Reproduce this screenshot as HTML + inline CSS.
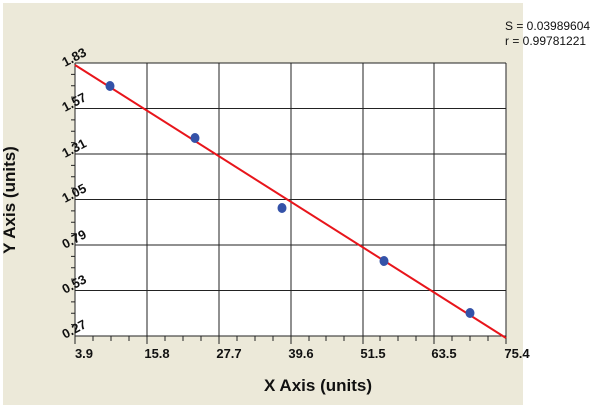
<!DOCTYPE html>
<html><head><style>body{margin:0;background:#fff}svg{display:block}</style></head><body>
<svg width="600" height="411" xmlns="http://www.w3.org/2000/svg" font-family="Liberation Sans, sans-serif">
<rect x="3" y="3" width="520" height="402" fill="#ece9d9"/>
<rect x="75" y="63" width="431" height="273" fill="#fff"/>
<g stroke="#555" stroke-width="1.3">
<line x1="147" y1="63" x2="147" y2="336"/><line x1="219" y1="63" x2="219" y2="336"/>
<line x1="291" y1="63" x2="291" y2="336"/><line x1="363" y1="63" x2="363" y2="336"/>
<line x1="434" y1="63" x2="434" y2="336"/><line x1="506" y1="63" x2="506" y2="336"/>
</g>
<g stroke="#222" stroke-width="1">
<line x1="75" y1="63" x2="506" y2="63"/><line x1="75" y1="108.5" x2="506" y2="108.5"/>
<line x1="75" y1="154" x2="506" y2="154"/><line x1="75" y1="199.5" x2="506" y2="199.5"/>
<line x1="75" y1="245" x2="506" y2="245"/><line x1="75" y1="290.5" x2="506" y2="290.5"/>
<line x1="75" y1="336" x2="506" y2="336"/><line x1="75" y1="63" x2="75" y2="344"/>
</g>
<path stroke="#222" stroke-width="1" fill="none" d="M75 336v8M93 336v5M111 336v5M129 336v5M147 336v8M165 336v5M183 336v5M201 336v5M219 336v8M237 336v5M255 336v5M273 336v5M291 336v8M309 336v5M326 336v5M344 336v5M363 336v8M380 336v5M398 336v5M416 336v5M434 336v8M452 336v5M470 336v5M488 336v5M506 336v8
M71 74.4h4M71 85.75h4M71 97.1h4M71 119.9h4M71 131.25h4M71 142.6h4M71 165.4h4M71 176.75h4M71 188.1h4M71 210.9h4M71 222.25h4M71 233.6h4M71 256.4h4M71 267.75h4M71 279.1h4M71 301.9h4M71 313.25h4M71 324.6h4"/>
<line x1="75" y1="65" x2="506" y2="338" stroke="#e8151b" stroke-width="2"/>
<g fill="#3452a8">
<ellipse cx="110" cy="86" rx="4.5" ry="5"/><ellipse cx="195" cy="138" rx="4.5" ry="5"/>
<ellipse cx="282" cy="208" rx="4.5" ry="5"/><ellipse cx="384" cy="261" rx="4.5" ry="5"/>
<ellipse cx="470" cy="313" rx="4.5" ry="5"/>
</g>
<g font-size="13" font-weight="bold" fill="#111">
<text transform="translate(65,67) rotate(-28)">1.83</text>
<text transform="translate(65,112) rotate(-28)">1.57</text>
<text transform="translate(65,158) rotate(-28)">1.31</text>
<text transform="translate(65,203) rotate(-28)">1.05</text>
<text transform="translate(65,249) rotate(-28)">0.79</text>
<text transform="translate(65,294) rotate(-28)">0.53</text>
<text transform="translate(65,339) rotate(-28)">0.27</text>
</g>
<g font-size="13" font-weight="bold" fill="#111" text-anchor="middle">
<text x="84" y="358">3.9</text><text x="157" y="358">15.8</text><text x="229" y="358">27.7</text>
<text x="301" y="358">39.6</text><text x="373" y="358">51.5</text><text x="444" y="358">63.5</text>
<text x="517" y="358">75.4</text>
</g>
<text x="318" y="391" font-size="17" font-weight="bold" text-anchor="middle" fill="#111">X Axis (units)</text>
<text transform="translate(15,200) rotate(-90)" font-size="17" font-weight="bold" text-anchor="middle" fill="#111">Y Axis (units)</text>
<g font-size="12" fill="#111"><text x="505" y="30">S = 0.03989604</text><text x="505" y="45">r = 0.99781221</text></g>
</svg>
</body></html>
